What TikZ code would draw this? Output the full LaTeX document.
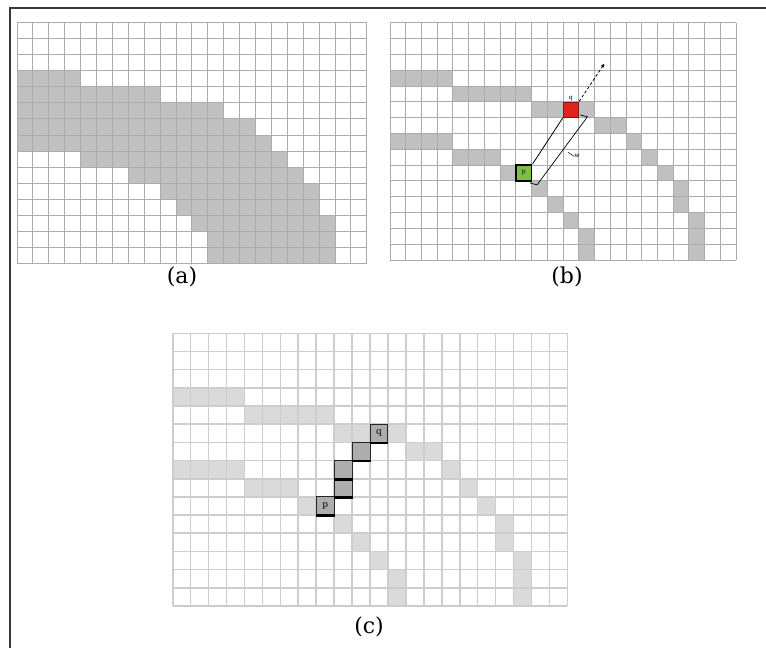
\documentclass[tikz,border=0pt]{standalone}
\usepackage{fontspec}
\setmainfont{DejaVu Serif}
\usetikzlibrary{positioning,arrows.meta,calc}
\definecolor{GridDark}{HTML}{ABABAB}
\definecolor{GridLight}{HTML}{CDCDCD}
\definecolor{BandGray}{HTML}{C0C0C0}
\definecolor{BandLight}{HTML}{DADADA}
\definecolor{PathGray}{HTML}{ADADAD}
\definecolor{QRed}{HTML}{E1231D}
\definecolor{PGreen}{HTML}{7CC043}
\definecolor{FrameGray}{HTML}{3A3A3A}
\newcommand{\upperband}{3/0/3,4/4/8,5/9/12,6/13/14,7/15/15,8/16/16,9/17/17,10/18/18,11/18/18,12/19/19,13/19/19,14/19/19}
\newcommand{\lowerband}{7/0/3,8/4/6,9/7/8,10/9/9,11/10/10,12/11/11,13/12/12,14/12/12}
\newcommand{\cellgrid}{%
  \foreach \i in {0,...,22} \draw (\i,0) -- (\i,15);
  \foreach \j in {0,...,15} \draw (0,\j) -- (22,\j);}

\begin{document}
\begin{tikzpicture}[x=1pt,y=-1pt,
  caption/.style={font=\fontsize{22}{24}\selectfont},
  tinylabel/.style={font=\fontsize{6}{6}\selectfont,inner sep=0pt},
  pathcell/.style={draw=black!85,line width=1pt,fill=PathGray,inner sep=0pt,
    minimum width=17.9pt,minimum height=18.1pt,font=\fontsize{9}{9}\selectfont}]
\useasboundingbox (0,0) rectangle (766,648);
\draw[FrameGray,line width=2.6pt] (766,8) -- (10,8) -- (10,648);

% (a) filled band
\begin{scope}[shift={(17,22.7)},x=15.9pt,y=-16.04pt]
\foreach \r/\a/\b in {3/0/3,4/0/8,5/0/12,6/0/14,7/0/15,8/4/16,9/7/17,10/9/18,11/10/18,12/11/19,13/12/19,14/12/19}
  \fill[BandGray] (\a,\r) rectangle (\b+1,\r+1);
\begin{scope}[GridDark,line width=0.9pt]
\cellgrid
\end{scope}
\end{scope}
\node[caption] (capa) at (182,277) {(a)};

% (b) two curves, p and q
\begin{scope}[shift={(390,22.7)},x=15.73pt,y=-15.82pt]
\foreach \r/\a/\b in \upperband
  \fill[BandGray] (\a,\r) rectangle (\b+1,\r+1);
\foreach \r/\a/\b in \lowerband
  \fill[BandGray] (\a,\r) rectangle (\b+1,\r+1);
\begin{scope}[GridDark,line width=0.9pt]
\cellgrid
\end{scope}
\node[draw=QRed!60!black,fill=QRed,line width=0.6pt,inner sep=0pt,
  minimum width=15.7pt,minimum height=15.8pt] (qb) at (11.5,5.5) {};
\node[tinylabel,above=1pt of qb] (qlabel) {q};
\node[draw=black,fill=PGreen,line width=1.8pt,inner sep=0pt,
  minimum width=15.7pt,minimum height=15.8pt,tinylabel] (pb) at (8.5,9.5) {p};
\coordinate (dirtip) at (13.64,2.57);
\coordinate (wtop) at (12.55,5.95);
\coordinate (wbot) at (9.35,10.25);
\draw[line width=0.8pt] (pb.north east) -- (qb.south west);
\draw[line width=0.8pt,densely dashed,-{Latex[length=4pt,width=3.5pt]}] (qb.north east) -- (dirtip);
\draw[line width=0.7pt] ($(wtop)+(-0.45,-0.12)$) -- (wtop) -- (wbot) -- ($(wbot)+(-0.45,-0.12)$);
\node[tinylabel] (wlabel) at (11.9,8.45) {w};
\draw[line width=0.5pt] (wlabel.west) -- ++(-0.4,-0.25);
\end{scope}
\node[caption] (capb) at (567,277) {(b)};

% (c) staircase from p to q
\begin{scope}[shift={(172.7,333.3)},x=17.94pt,y=-18.18pt]
\foreach \r/\a/\b in \upperband
  \fill[BandLight] (\a,\r) rectangle (\b+1,\r+1);
\foreach \r/\a/\b in \lowerband
  \fill[BandLight] (\a,\r) rectangle (\b+1,\r+1);
\begin{scope}[GridLight,line width=1.6pt]
\cellgrid
\end{scope}
\foreach \c/\r/\t [count=\i] in {8/9/p,9/8/,9/7/,10/6/,11/5/q}{
  \node[pathcell] (pc\i) at (\c+0.5,\r+0.5) {\t};
  \draw[line width=2.6pt] (pc\i.south west) -- (pc\i.south east);
}
\end{scope}
\node[caption] (capc) at (369,627) {(c)};
\end{tikzpicture}
\end{document}
